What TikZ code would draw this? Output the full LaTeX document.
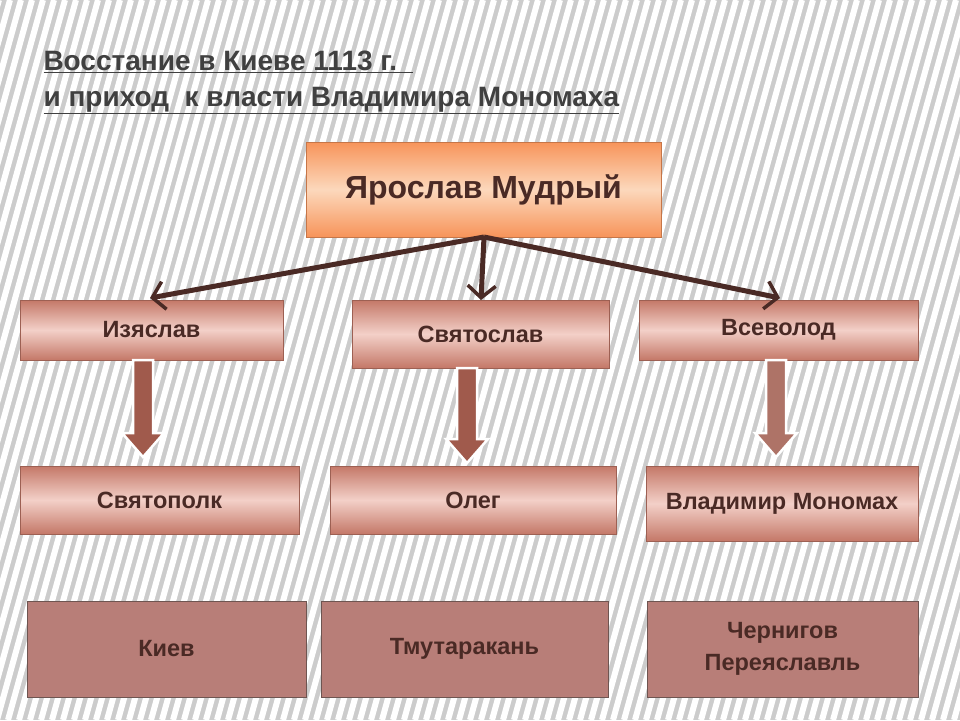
\documentclass[tikz,border=0pt]{standalone}
\usepackage{fontspec}
\setmainfont{Liberation Sans}
\usetikzlibrary{arrows.meta}
\definecolor{txt}{HTML}{4A2A25}
\definecolor{bxe}{HTML}{C47868}
\definecolor{bxm}{HTML}{F3D0C8}
\definecolor{ore}{HTML}{F7945A}
\definecolor{orm}{HTML}{FCD8BC}
\definecolor{bot}{HTML}{B87E78}
\definecolor{arr}{HTML}{A05A4C}
\newcommand\myblk[4]{% x, y0, y1, fill
  \draw[white,line width=2.5pt,fill=#4,line join=miter] (#1-10,#2) -- (#1+10,#2) -- (#1+10,#3-24) -- (#1+21,#3-24) -- (#1,#3) -- (#1-21,#3-24) -- (#1-10,#3-24) -- cycle;}
\begin{document}
\begin{tikzpicture}[x=1pt,y=-1pt,
  box/.style={draw=bxe!80!black,line width=0.8pt,top color=bxe,bottom color=bxe,middle color=bxm,text=txt,font=\bfseries\fontsize{23.5}{26}\selectfont,align=center},
  obox/.style={draw=ore!80!black,line width=0.8pt,top color=ore,bottom color=ore,middle color=orm,text=txt,font=\bfseries\fontsize{32}{36}\selectfont},
  bbox/.style={draw=txt!80,line width=1pt,fill=bot,text=txt,font=\bfseries\fontsize{23.5}{32}\selectfont,align=center},
  link/.style={draw=txt,line width=5pt,-{Straight Barb[length=12pt,width=28pt,line width=3.5pt]}}
]
\useasboundingbox (0,0) rectangle (960,720);
\fill[gray!40] (0,0) rectangle (960,720);
\begin{scope}
\clip (0,0) rectangle (960,720);
\foreach \i in {-300,-289,...,960} \draw[white,line width=6pt] (\i,720) -- (\i+200,0);
\end{scope}
\node[anchor=base west,text=black!75,font=\bfseries\fontsize{28}{32}\selectfont] (t1) at (40,70) {\underline{Восстание в Киеве 1113 г.\ \ }};
\node[anchor=base west,text=black!75,font=\bfseries\fontsize{28}{32}\selectfont] (t2) at (40,106) {\underline{и приход\ \ к власти Владимира Мономаха}};
\node[obox,minimum width=355pt,minimum height=95pt] (yar) at (483.5,189.5) {Ярослав Мудрый};
\node[box,minimum width=263pt,minimum height=60pt] (iz) at (151.5,330) {Изяслав};
\node[box,minimum width=257pt,minimum height=68pt] (sv) at (480.5,334) {Святослав};
\node[box,minimum width=279pt,minimum height=60pt] (vs) at (778.5,330) {Всеволод};
\node[box,minimum width=279pt,minimum height=68pt] (sp) at (159.5,500) {Святополк};
\node[box,minimum width=286pt,minimum height=68pt] (ol) at (473,500) {Олег};
\node[box,minimum width=272pt,minimum height=75pt] (vm) at (782,503.5) {Владимир Мономах};
\node[bbox,minimum width=279pt,minimum height=96pt] (ki) at (166.5,649) {Киев};
\node[bbox,minimum width=287pt,minimum height=96pt] (tm) at (464.5,649) {Тмутаракань};
\node[bbox,minimum width=271pt,minimum height=96pt] (ch) at (782.5,649) {Чернигов\\Переяславль};
\coordinate (o) at (484,237);
\coordinate (e1) at (150,298);
\coordinate (e2) at (481,300);
\coordinate (e3) at (780,298);
\draw[link] (o) -- (e1);
\draw[link] (o) -- (e2);
\draw[link] (o) -- (e3);
\myblk{143}{360}{457}{arr}
\myblk{467}{368}{463}{arr}
\myblk{776}{360}{457}{arr!85}
\end{tikzpicture}
\end{document}
